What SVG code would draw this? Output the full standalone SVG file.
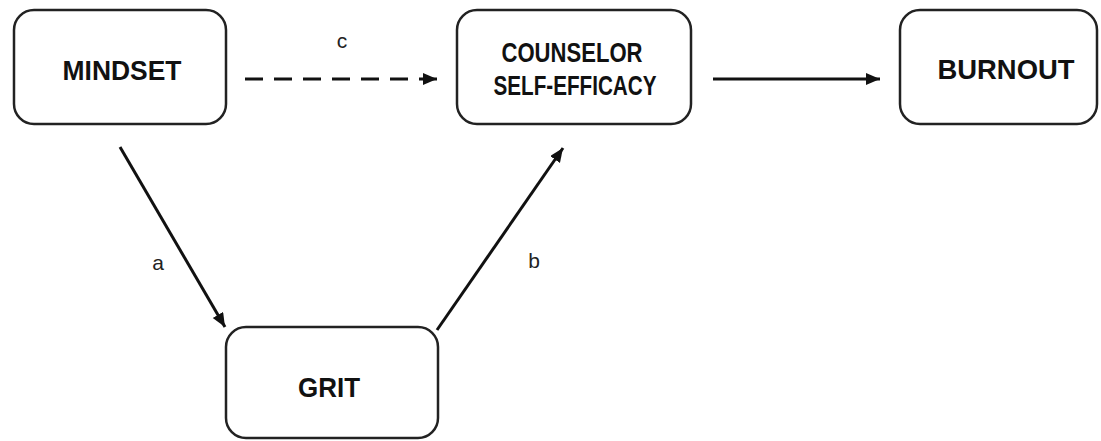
<svg xmlns="http://www.w3.org/2000/svg" width="1101" height="441" viewBox="0 0 1101 441">
<defs>
<style>
.box{fill:#fff;stroke:#222;stroke-width:2.5}
.lbl{font-family:"Liberation Sans",Arial,sans-serif;font-weight:bold;font-size:28px;fill:#111;text-anchor:middle}
.sm{font-family:"Liberation Sans",Arial,sans-serif;font-size:21px;fill:#222;text-anchor:middle}
.edge{stroke:#111;stroke-width:3;fill:none}
</style>
<marker id="ah" markerUnits="userSpaceOnUse" markerWidth="16" markerHeight="14" refX="14" refY="6" orient="auto">
<path d="M0,0 L14,6 L0,12 Z" fill="#111"/>
</marker>
</defs>
<rect width="1101" height="441" fill="#fff"/>
<g id="connectors">
<line class="edge" x1="245" y1="79" x2="437" y2="79" stroke-dasharray="18 11" marker-end="url(#ah)"/>
<text class="sm" x="342" y="48">c</text>
<line class="edge" x1="713" y1="79" x2="880" y2="79" marker-end="url(#ah)"/>
<line class="edge" x1="120" y1="147" x2="225" y2="327" marker-end="url(#ah)"/>
<text class="sm" x="158" y="270">a</text>
<line class="edge" x1="437" y1="330" x2="563" y2="148" marker-end="url(#ah)"/>
<text class="sm" x="534" y="268">b</text>
</g>
<g id="mindset">
<rect class="box" x="14" y="10" width="212" height="114" rx="20"/>
<text class="lbl" x="122" y="80" textLength="119" lengthAdjust="spacingAndGlyphs">MINDSET</text>
</g>
<g id="counselor">
<rect class="box" x="457" y="10" width="234" height="114" rx="20"/>
<text class="lbl" x="572" y="62" textLength="141" lengthAdjust="spacingAndGlyphs">COUNSELOR</text>
<text class="lbl" x="575" y="95" textLength="163" lengthAdjust="spacingAndGlyphs">SELF-EFFICACY</text>
</g>
<g id="burnout">
<rect class="box" x="900" y="10" width="197" height="114" rx="20"/>
<text class="lbl" x="1006" y="79" textLength="137" lengthAdjust="spacingAndGlyphs">BURNOUT</text>
</g>
<g id="grit">
<rect class="box" x="226" y="327" width="212" height="111" rx="20"/>
<text class="lbl" x="329" y="397" textLength="62" lengthAdjust="spacingAndGlyphs">GRIT</text>
</g>
</svg>
